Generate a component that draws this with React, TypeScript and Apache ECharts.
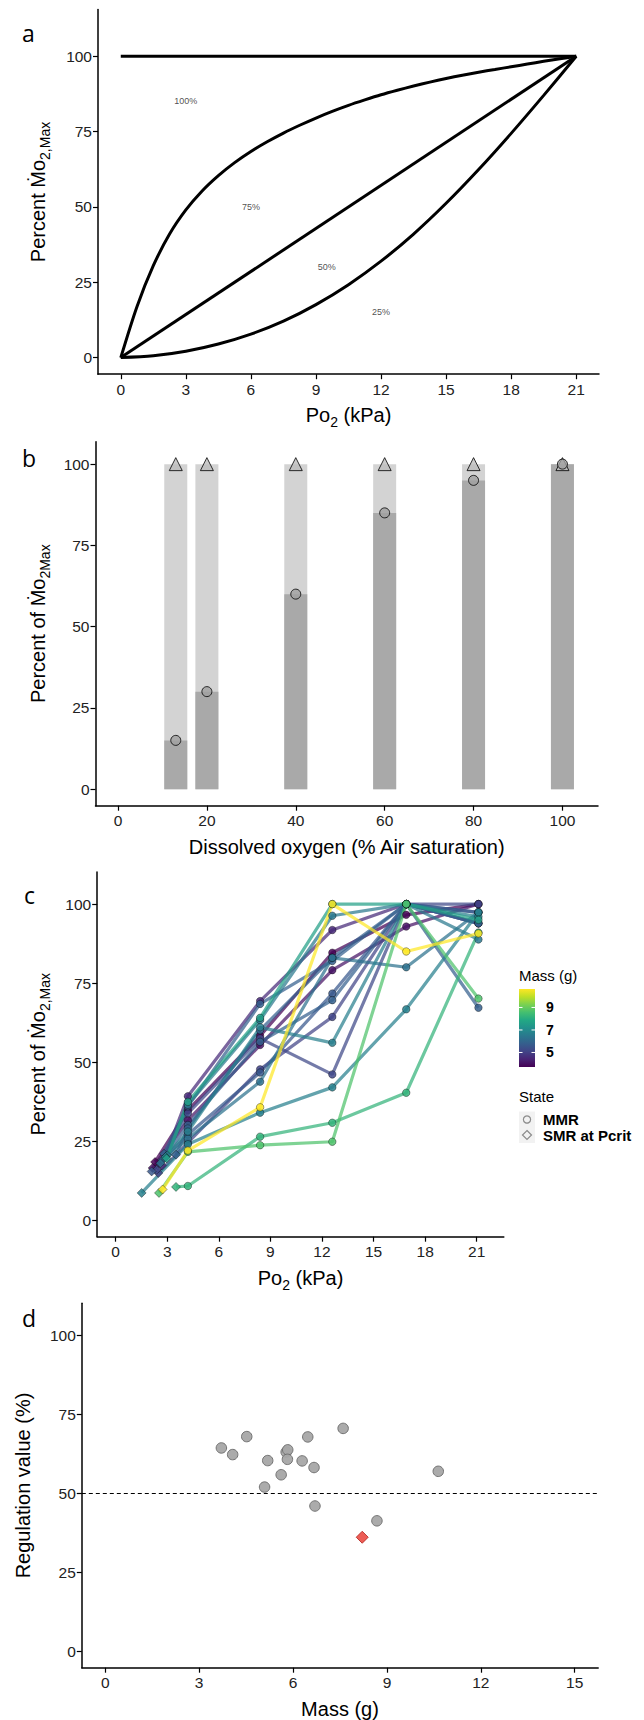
import React, { useEffect, useRef } from 'react';
import * as echarts from 'echarts';

const FONT = '"Liberation Sans", Arial, Helvetica, sans-serif';

// ---------- Panel a ----------
const a75X = [0, 0.75, 1.5, 2.25, 3, 3.75, 4.5, 5.25, 6, 6.75, 7.5, 8.25, 9, 9.75, 10.5, 11.25, 12, 12.75, 13.5, 14.25, 15, 15.75, 16.5, 17.25, 18, 18.75, 19.5, 20.25, 21];
const a75Y = [0, 17, 30.5, 41, 49, 55.3, 60.4, 64.7, 68.4, 71.6, 74.5, 77.1, 79.5, 81.7, 83.7, 85.5, 87.2, 88.7, 90.1, 91.4, 92.6, 93.7, 94.7, 95.6, 96.5, 97.4, 98.3, 99.15, 100];
const a25X = [0, 1.5, 3, 4.5, 6, 7.5, 9, 10.5, 12, 13.5, 15, 16.5, 18, 19.5, 21];
const a25Y = [0, 0.6, 2.1, 4.5, 7.8, 12.1, 17.6, 24.2, 32, 41, 51.2, 62.4, 74.4, 87, 100];
const a50X = [0, 21];
const a50Y = [0, 100];
const a100X = [0, 21];
const a100Y = [100, 100];
const aLabelText = ['100%', '75%', '50%', '25%'];
const aLabelX = [3, 6, 9.5, 12];
const aLabelY = [85, 50, 30, 15];
const po2Ticks = [0, 3, 6, 9, 12, 15, 18, 21];
const pctTicks = [0, 25, 50, 75, 100];

// ---------- Panel b ----------
const bO2 = [13, 20, 40, 60, 80, 100];
const bMmr = [15, 30, 60, 85, 95, 100];
const bSmr = [100, 100, 100, 100, 100, 100];
const bTicks = [0, 20, 40, 60, 80, 100];

// ---------- Panel c ----------
const cPo2 = [4.2, 8.4, 12.6, 16.9, 21.1];
const cMass = [3.71, 4.07, 4.52, 5.09, 5.19, 5.62, 5.78, 5.82, 5.83, 6.29, 6.47, 6.67, 6.70, 7.60, 8.21, 8.68, 10.64];
const cPcritX = [2.29, 2.15, 2.68, 2.48, 2.38, 2.09, 2.81, 2.73, 3.51, 2.6, 3.0, 2.9, 1.51, 2.96, 3.51, 2.52, 2.73];
const cPcritY = [18.4, 16.5, 17.3, 14.9, 15.9, 15.4, 21, 19.1, 20.7, 18, 20.5, 20, 8.6, 19.5, 10.5, 8.6, 9.7];
const cMmr = [
  [34.8, 58.3, 84.6, 96.6, 100],
  [31.6, 55.4, 79.1, 92.9, 100],
  [39.2, 69.3, 91.8, 100, 93.9],
  [24.5, 47.7, 64.3, 100, 97.4],
  [33.8, 57.5, 46.1, 100, 100],
  [27.1, 46.7, 71.7, 100, 93.9],
  [36, 68.4, 82, 100, 67.2],
  [30.1, 56.4, 69.6, 100, 97.4],
  [29, 60.1, 83, 100, 93.9],
  [25.8, 43.8, 83, 80, 97.4],
  [36.5, 63.3, 96.3, 100, 88.8],
  [28, 61, 56.1, 100, 96],
  [24, 34, 42, 66.7, 97.4],
  [37.4, 64, 100, 100, 95],
  [10.8, 26.4, 30.8, 40.3, 91],
  [21.6, 23.7, 24.8, 100, 70.1],
  [22, 35.7, 100, 85, 90.7],
];
const massLegendTicks = [5, 7, 9];

// ---------- Panel d ----------
const dMass = [3.71, 4.07, 4.52, 5.19, 5.09, 5.62, 5.78, 5.83, 5.82, 6.29, 6.47, 6.67, 6.70, 7.60, 8.68, 10.64];
const dReg = [64.4, 62.3, 68.0, 60.4, 52.0, 55.9, 63.1, 63.8, 60.8, 60.3, 67.9, 58.2, 46.0, 70.6, 41.3, 57.0];
const dSmrMass = [8.21];
const dSmrReg = [36.1];
const dTicks = [0, 3, 6, 9, 12, 15];
const dRefLine = 50;

const viridisStops = ['#440154', '#482475', '#414487', '#355f8d', '#2a788e', '#21918c', '#22a884', '#44bf70', '#7ad151', '#bddf26', '#fde725'];

function hexRgb(h: string) {
  return [parseInt(h.slice(1, 3), 16), parseInt(h.slice(3, 5), 16), parseInt(h.slice(5, 7), 16)];
}
function viridis(t: number): string {
  const n = viridisStops.length - 1;
  const tt = Math.max(0, Math.min(1, t)) * n;
  const i = Math.min(Math.floor(tt), n - 1);
  const f = tt - i;
  const a = hexRgb(viridisStops[i]);
  const b = hexRgb(viridisStops[i + 1]);
  const c = a.map((v, k) => Math.round(v + (b[k] - v) * f));
  return `rgb(${c[0]},${c[1]},${c[2]})`;
}

function xAx(gridIndex: number, min: number, max: number, ticks: number[]) {
  return {
    type: 'value', gridIndex, min, max,
    axisLine: { show: true, onZero: false, lineStyle: { color: '#000', width: 1.5 } },
    axisTick: { show: true, length: 5, lineStyle: { color: '#000', width: 1.2 }, customValues: ticks },
    axisLabel: { show: true, customValues: ticks, color: '#222', fontSize: 15.5, fontFamily: FONT, margin: 7 },
    splitLine: { show: false },
  };
}
function yAx(gridIndex: number, min: number, max: number, ticks: number[]) {
  return {
    type: 'value', gridIndex, min, max,
    axisLine: { show: true, onZero: false, lineStyle: { color: '#000', width: 1.5 } },
    axisTick: { show: true, length: 5, lineStyle: { color: '#000', width: 1.2 }, customValues: ticks },
    axisLabel: { show: true, customValues: ticks, color: '#222', fontSize: 15.5, fontFamily: FONT, margin: 6 },
    splitLine: { show: false },
  };
}

const rich = {
  n: { fontSize: 20, fontFamily: FONT, fill: '#000', color: '#000', lineHeight: 28, verticalAlign: 'middle' },
  s: { fontSize: 14, fontFamily: FONT, fill: '#000', color: '#000', lineHeight: 14, verticalAlign: 'bottom' },
};

function title(x: number, y: number, text: string, rotate = false) {
  return {
    type: 'text', x, y, rotation: rotate ? Math.PI / 2 : 0, z: 100,
    style: { text, rich, align: 'center', verticalAlign: 'middle', fontSize: 20, fontFamily: FONT, fill: '#000' },
  };
}
function letter(x: number, y: number, t: string) {
  return {
    type: 'text', x, y, z: 100,
    style: { text: t, fontSize: 23, fontFamily: '"Open Sans", "DejaVu Sans", sans-serif', fill: '#000', align: 'left', verticalAlign: 'middle' },
  };
}

export default function App() {
  const ref = useRef<HTMLDivElement>(null);
  useEffect(() => {
    document.body.style.margin = '0';
    const chart = echarts.init(ref.current!, null, { renderer: 'svg' });
    const mMin = Math.min(...cMass);
    const mMax = Math.max(...cMass);
    const colorOf = (m: number) => viridis((m - mMin) / (mMax - mMin));

    const series: any[] = [];
    // Panel a
    const curve = (xs: number[], ys: number[], smooth: boolean) => ({
      type: 'line', xAxisIndex: 0, yAxisIndex: 0, showSymbol: false, smooth: smooth ? 0.3 : false,
      data: xs.map((x, i) => [x, ys[i]]),
      lineStyle: { color: '#000', width: 3 }, silent: true,
    });
    series.push(curve(a100X, a100Y, false), curve(a75X, a75Y, true), curve(a50X, a50Y, false), curve(a25X, a25Y, true));
    series.push({
      type: 'scatter', xAxisIndex: 0, yAxisIndex: 0, symbolSize: 0,
      data: aLabelX.map((x, i) => [x, aLabelY[i], aLabelText[i]]),
      label: { show: true, position: 'inside', formatter: (p: any) => p.data[2], fontSize: 9, fontFamily: FONT, color: '#222' },
    });
    // Panel b
    series.push({
      type: 'bar', xAxisIndex: 1, yAxisIndex: 1, barWidth: 23, barGap: '-100%',
      data: bO2.map((x, i) => [x, bSmr[i]]), itemStyle: { color: '#d3d3d3' }, silent: true,
    });
    series.push({
      type: 'bar', xAxisIndex: 1, yAxisIndex: 1, barWidth: 23, barGap: '-100%',
      data: bO2.map((x, i) => [x, bMmr[i]]), itemStyle: { color: '#a9a9a9' }, silent: true,
    });
    series.push({
      type: 'scatter', xAxisIndex: 1, yAxisIndex: 1, symbol: 'triangle', symbolSize: 13, z: 5,
      data: bO2.map((x, i) => [x, bSmr[i]]),
      itemStyle: { color: '#bdbdbd', borderColor: '#000', borderWidth: 1 },
    });
    series.push({
      type: 'scatter', xAxisIndex: 1, yAxisIndex: 1, symbol: 'circle', symbolSize: 10, z: 6,
      data: bO2.map((x, i) => [x, bMmr[i]]),
      itemStyle: { color: '#a0a0a0', borderColor: '#000', borderWidth: 1 },
    });
    // Panel c
    const pts: any[] = [];
    cMass.forEach((m, i) => {
      const col = colorOf(m);
      const line = [[cPcritX[i], cPcritY[i]], ...cPo2.map((x, j) => [x, cMmr[i][j]])];
      series.push({
        type: 'line', xAxisIndex: 2, yAxisIndex: 2, showSymbol: false, silent: true, z: 2,
        data: line, lineStyle: { color: col, width: 3.2, opacity: 0.72 },
      });
      pts.push({ value: [cPcritX[i], cPcritY[i]], symbol: 'diamond', symbolSize: 9, itemStyle: { color: col } });
      cPo2.forEach((x, j) => pts.push({ value: [x, cMmr[i][j]], symbol: 'circle', symbolSize: 7.5, itemStyle: { color: col } }));
    });
    series.push({
      type: 'scatter', xAxisIndex: 2, yAxisIndex: 2, z: 4, data: pts,
      itemStyle: { borderColor: 'rgba(0,0,0,0.55)', borderWidth: 0.8, opacity: 0.85 },
    });
    // Panel d
    series.push({
      type: 'scatter', xAxisIndex: 3, yAxisIndex: 3, symbol: 'circle', symbolSize: 10.5,
      data: dMass.map((x, i) => [x, dReg[i]]),
      itemStyle: { color: '#a6a6a6', borderColor: '#6e6e6e', borderWidth: 1, opacity: 0.95 },
      markLine: {
        silent: true, symbol: ['none', 'none'], label: { show: false },
        lineStyle: { type: [4, 3], color: '#000', width: 1 },
        data: [{ yAxis: dRefLine }],
      },
    });
    series.push({
      type: 'scatter', xAxisIndex: 3, yAxisIndex: 3, symbol: 'diamond', symbolSize: 12,
      data: dSmrMass.map((x, i) => [x, dSmrReg[i]]),
      itemStyle: { color: '#e8352c', borderColor: '#b0201a', borderWidth: 1 },
    });

    // Colour bar legend
    const cbL = 519, cbR = 535, cbT = 989, cbB = 1067;
    const gradStops = viridisStops.map((c, i) => ({ offset: i / (viridisStops.length - 1), color: c }));
    const graphics: any[] = [
      letter(22, 32.5, 'a'), letter(22, 457.5, 'b'), letter(24, 894.5, 'c'), letter(22, 1317.5, 'd'),
      title(348.5, 415, '{n|Po}{s|2}{n| (kPa)}'),
      title(38, 192, '{n|Percent Ṁo}{s|2,Max}', true),
      title(346.7, 847, '{n|Dissolved oxygen (% Air saturation)}'),
      title(38, 623.7, '{n|Percent of Ṁo}{s|2Max}', true),
      title(300.5, 1277.5, '{n|Po}{s|2}{n| (kPa)}'),
      title(38, 1054.3, '{n|Percent of Ṁo}{s|2,Max}', true),
      title(340, 1708.5, '{n|Mass (g)}'),
      title(23, 1485.5, '{n|Regulation value (%)}', true),
      {
        type: 'text', x: cbL, y: 975, style: { text: 'Mass (g)', fontSize: 15, fontFamily: FONT, fill: '#000', align: 'left', verticalAlign: 'middle' },
      },
      {
        type: 'rect', shape: { x: cbL, y: cbT, width: cbR - cbL, height: cbB - cbT },
        style: { fill: new echarts.graphic.LinearGradient(0, 1, 0, 0, gradStops) },
      },
      {
        type: 'text', x: cbL, y: 1096, style: { text: 'State', fontSize: 15, fontFamily: FONT, fill: '#000', align: 'left', verticalAlign: 'middle' },
      },
      { type: 'rect', shape: { x: cbL, y: 1111.5, width: 16, height: 31.5 }, style: { fill: '#f2f2f2' } },
      { type: 'circle', shape: { cx: 527, cy: 1119.5, r: 3.6 }, style: { fill: 'none', stroke: '#8c8c8c', lineWidth: 1.2 } },
      { type: 'polygon', shape: { points: [[527, 1130.5], [531.5, 1135], [527, 1139.5], [522.5, 1135]] }, style: { fill: 'none', stroke: '#8c8c8c', lineWidth: 1.2 } },
      { type: 'text', x: 543, y: 1119.5, style: { text: 'MMR', fontSize: 15, fontWeight: 'bold', fontFamily: FONT, fill: '#000', align: 'left', verticalAlign: 'middle' } },
      { type: 'text', x: 543, y: 1135.5, style: { text: 'SMR at Pcrit', fontSize: 15, fontWeight: 'bold', fontFamily: FONT, fill: '#000', align: 'left', verticalAlign: 'middle' } },
    ];
    massLegendTicks.forEach((m) => {
      const y = cbB - ((m - mMin) / (mMax - mMin)) * (cbB - cbT);
      graphics.push({ type: 'line', shape: { x1: cbL, y1: y, x2: cbL + 3.5, y2: y }, style: { stroke: '#fff', lineWidth: 1 } });
      graphics.push({ type: 'line', shape: { x1: cbR - 3.5, y1: y, x2: cbR, y2: y }, style: { stroke: '#fff', lineWidth: 1 } });
      graphics.push({ type: 'text', x: 546, y, style: { text: String(m), fontSize: 14, fontWeight: 'bold', fontFamily: FONT, fill: '#000', align: 'left', verticalAlign: 'middle' } });
    });

    const option: any = {
      animation: false,
      backgroundColor: '#fff',
      grid: [
        { left: 98, top: 9.5, width: 501, height: 364.7, outerBoundsMode: 'none' },
        { left: 95.5, top: 441.7, width: 502.5, height: 364, outerBoundsMode: 'none' },
        { left: 97.2, top: 872, width: 406.6, height: 364.7, outerBoundsMode: 'none' },
        { left: 81.8, top: 1303.3, width: 516.4, height: 364.4, outerBoundsMode: 'none' },
      ],
      xAxis: [
        xAx(0, -1.05, 22.05, po2Ticks),
        xAx(1, -5.06, 108, bTicks),
        xAx(2, -1.075, 22.575, po2Ticks),
        xAx(3, -0.75, 15.75, dTicks),
      ],
      yAxis: [
        yAx(0, -5.5, 115.5, pctTicks),
        yAx(1, -5.1, 106.9, pctTicks),
        yAx(2, -5.25, 110.15, pctTicks),
        yAx(3, -5.25, 110.25, pctTicks),
      ],
      series,
      graphic: graphics,
    };
    chart.setOption(option);
    return () => chart.dispose();
  }, []);
  return <div ref={ref} style={{ position: 'absolute', left: 0, top: 0, width: 644, height: 1720, background: '#fff' }} />;
}
